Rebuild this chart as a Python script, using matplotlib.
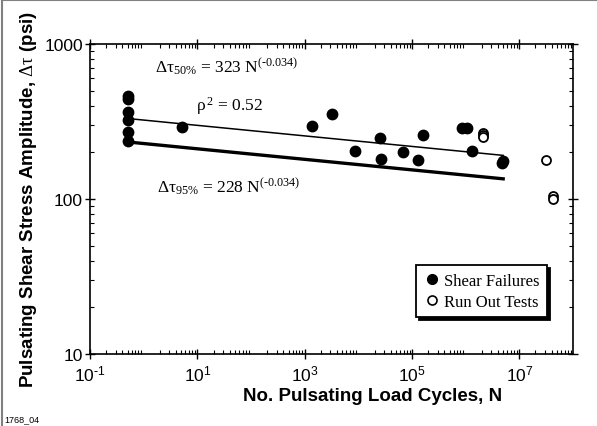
import numpy as np
import matplotlib
matplotlib.use("Agg")
import matplotlib.pyplot as plt
from matplotlib.lines import Line2D

plt.rcParams["mathtext.fontset"] = "custom"
plt.rcParams["mathtext.rm"] = "Liberation Serif"
plt.rcParams["mathtext.it"] = "Liberation Serif"
plt.rcParams["mathtext.bf"] = "Liberation Serif:bold"
plt.rcParams["mathtext.sf"] = "Liberation Sans"

# shear failures (cycles, stress amplitude psi)
fail_n = [0.5, 0.5, 0.5, 0.5, 0.5, 0.5, 5.2, 1360, 3200, 8600, 25000, 26000,
          67000, 128000, 160000, 850000, 1050000, 1300000, 4800000, 5000000]
fail_tau = [460, 440, 362, 325, 272, 236, 290, 296, 355, 204, 248, 181,
            201, 179, 259, 287, 287, 204, 170, 176]

# run out tests
run_n = [2100000, 2100000, 2100000, 31000000, 42000000, 42000000]
run_tau = [268, 260, 252, 179, 105, 100]

# fit lines
fit_n = [0.5, 5.0e6]
coef_50 = 323
coef_95 = 228
expo = -0.034

fig = plt.figure(figsize=(5.97, 4.27), dpi=100)
ax = fig.add_axes([0.1508, 0.1686, 0.809, 0.726])

nn = np.array(fit_n)
ax.plot(nn, coef_50 * nn ** expo, color="black", lw=1.1, zorder=2)
ax.plot(nn, coef_95 * nn ** expo, color="black", lw=2.4, zorder=2)

ax.scatter(fail_n, fail_tau, s=56, color="black", zorder=3)
ax.scatter(run_n, run_tau, s=42, facecolor="white", edgecolor="black",
           linewidth=1.3, zorder=3)

ax.set_xscale("log")
ax.set_yscale("log")
ax.set_xlim(1e-1, 1e8)
ax.set_ylim(10, 1000)

ax.set_xticks([1e-1, 1e1, 1e3, 1e5, 1e7])
ax.set_xticklabels([r"$\mathsf{10^{\text{-}1}}$", r"$\mathsf{10^{1}}$",
                    r"$\mathsf{10^{3}}$", r"$\mathsf{10^{5}}$",
                    r"$\mathsf{10^{7}}$"])
ax.set_yticks([10, 100, 1000])
ax.set_yticklabels(["10", "100", "1000"])

ax.tick_params(which="major", direction="inout", length=7, width=1,
               labelsize=12.5, top=True, right=True, pad=1.5)
ax.tick_params(which="minor", direction="in", length=3, width=0.8,
               top=True, right=True)
for lab in ax.get_xticklabels() + ax.get_yticklabels():
    lab.set_family("Liberation Sans")
ax.tick_params(axis="x", pad=3)

for sp in ax.spines.values():
    sp.set_linewidth(1.2)

ax.set_xlabel("No. Pulsating Load Cycles, N", fontsize=13.5,
              fontweight="bold", family="Liberation Sans", labelpad=4)
ax.xaxis.set_label_coords(0.584, -0.105)
ax.set_ylabel(r"Pulsating Shear Stress Amplitude, $\Delta\tau$ (psi)",
              fontsize=13.5, fontweight="bold", family="Liberation Sans",
              labelpad=4)

tfont = dict(fontsize=12.5, family="Liberation Serif", color="black")
ax.text(1.6, 660, r"$\Delta\tau_{50\%}$ = 323 N$^{(\text{-}0.034)}$", **tfont)
ax.text(9.5, 375, r"$\rho^{\,2}$ = 0.52", **tfont)
ax.text(1.8, 110, r"$\Delta\tau_{95\%}$ = 228 N$^{(\text{-}0.034)}$", **tfont)

handles = [
    Line2D([], [], marker="o", ls="none", color="black", markersize=7),
    Line2D([], [], marker="o", ls="none", markerfacecolor="white",
           markeredgecolor="black", markersize=6.5, markeredgewidth=1.2),
]
leg = ax.legend(handles, ["Shear Failures", "Run Out Tests"],
                loc="lower right", bbox_to_anchor=(0.963, 0.092),
                prop={"family": "Liberation Serif", "size": 12},
                frameon=True, fancybox=False, handletextpad=0.2,
                handlelength=1.0, borderpad=0.45, labelspacing=0.3,
                shadow={"color": "black", "alpha": 1})
leg.get_frame().set_edgecolor("black")
leg.get_frame().set_linewidth(1.3)

fig.text(0.008, 0.012, "1768_04", fontsize=6.5, family="Liberation Sans")

# gray page frame on left and top
fig.add_artist(Line2D([0.004, 0.004], [0.0, 0.998], transform=fig.transFigure,
                      color="#808080", lw=1.5))
fig.add_artist(Line2D([0.004, 1.0], [0.998, 0.998], transform=fig.transFigure,
                      color="#808080", lw=1.5))

fig.savefig("out.png", dpi=100)
